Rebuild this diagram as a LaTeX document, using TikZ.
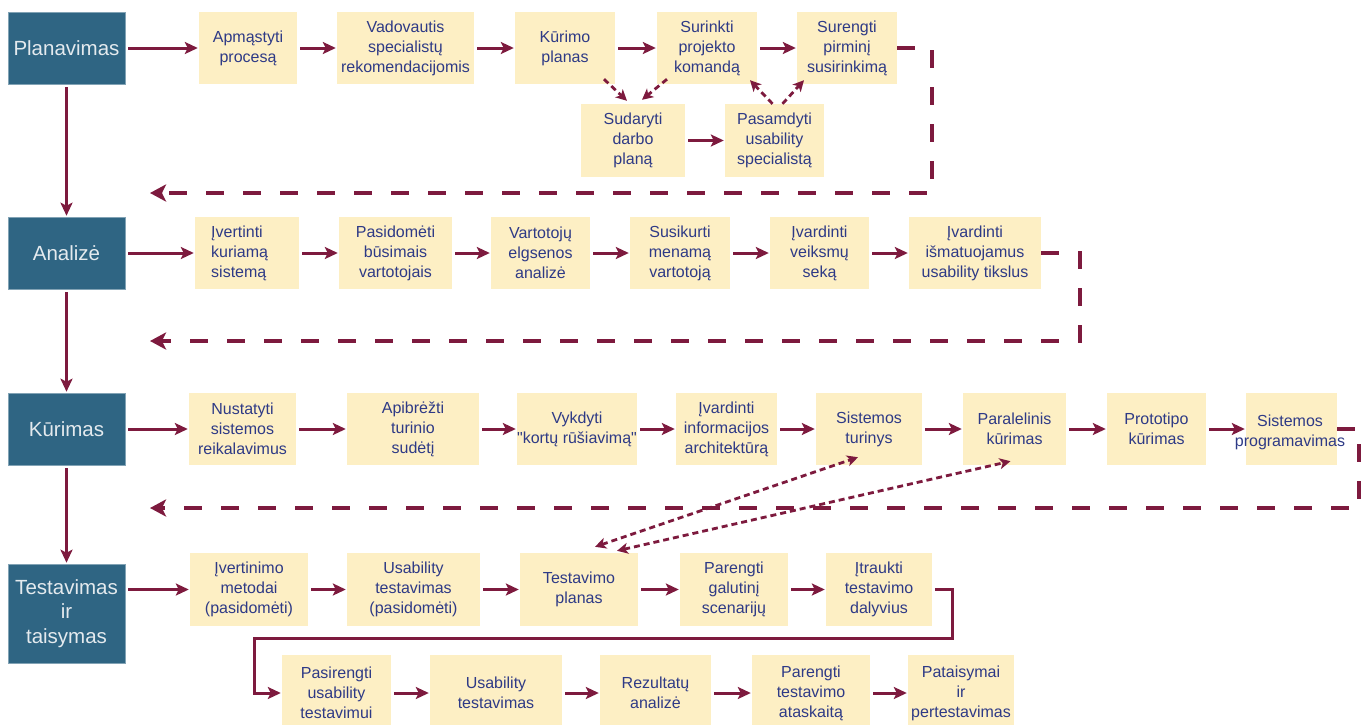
\documentclass[tikz,border=0pt]{standalone}
\usepackage{fontspec}
\setmainfont{Liberation Sans}[Ligatures=TeXOff]
\usetikzlibrary{arrows.meta,calc}
\definecolor{maroon}{HTML}{7D1A3E}
\definecolor{phase}{HTML}{2F6583}
\definecolor{yfill}{HTML}{FDEFC4}
\definecolor{navy}{HTML}{2E3A86}
\definecolor{phtext}{HTML}{E4EAEE}
\pgfdeclarelayer{bg}\pgfsetlayers{bg,main}
\begin{document}
\begin{tikzpicture}[x=1pt,y=-1pt,
  phasebox/.style={fill=phase, draw=phase!60!white, line width=0.6pt, text=phtext,
    font=\fontsize{20.5}{24.5}\selectfont, align=center, inner sep=0pt},
  stepbox/.style={fill=yfill, text=navy, font=\fontsize{16}{20}\selectfont, align=center, inner sep=0pt},
  flow/.style={draw=maroon, line width=3pt, line join=miter,
    -{Stealth[length=13pt,width=12pt,inset=3pt]}, shorten <=3pt, shorten >=1pt},
  loopline/.style={draw=maroon, line width=4.5pt, line join=miter, dash pattern=on 18pt off 19pt,
    -{Stealth[length=16pt,width=17pt,inset=4pt]}},
  dotline/.style={draw=maroon, line width=2.8pt, dash pattern=on 6pt off 4pt,
    -{Stealth[length=11pt,width=11pt,inset=3pt]}},
  dotboth/.style={draw=maroon, line width=2.8pt, dash pattern=on 6pt off 4pt,
    {Stealth[length=11pt,width=11pt,inset=3pt]}-{Stealth[length=11pt,width=11pt,inset=3pt]}}
]
\clip (0,0) rectangle (1361,724);
\fill[white] (0,0) rectangle (1361,724);

% phase boxes
\node[phasebox, minimum width=117, minimum height=72] (P1) at (66.5,48) {Planavimas};
\node[phasebox, minimum width=117, minimum height=72] (P2) at (66.5,253) {Analizė};
\node[phasebox, minimum width=117, minimum height=72] (P3) at (66.5,429) {Kūrimas};
\node[phasebox, minimum width=117, minimum height=99] (P4) at (66.5,613.5) {Testavimas\\ir\\taisymas};

% row 1
\node[stepbox, minimum width=98, minimum height=72] (a1) at (248,48) {Apmąstyti\\procesą};
\node[stepbox, minimum width=137, minimum height=72] (a2) at (405.5,48) {Vadovautis\\specialistų\\rekomendacijomis};
\node[stepbox, minimum width=100, minimum height=72] (a3) at (565,48) {Kūrimo\\planas};
\node[stepbox, minimum width=100, minimum height=72] (a4) at (707,48) {Surinkti\\projekto\\komandą};
\node[stepbox, minimum width=100, minimum height=72] (a5) at (847,48) {Surengti\\pirminį\\susirinkimą};
\node[stepbox, minimum width=104, minimum height=73] (a6) at (633,140.5) {Sudaryti\\darbo\\planą};
\node[stepbox, minimum width=99, minimum height=73] (a7) at (774.5,140.5) {Pasamdyti\\usability\\specialistą};

% row 2
\node[stepbox, minimum width=104, minimum height=72] (b1) at (247,253) {};
\node[text=navy, font=\fontsize{16}{20}\selectfont, align=left, inner sep=0pt, anchor=west] (b1t) at (211,253) {Įvertinti\\kuriamą\\sistemą};
\node[stepbox, minimum width=113, minimum height=72] (b2) at (395.5,253) {Pasidomėti\\būsimais\\vartotojais};
\node[stepbox, minimum width=99, minimum height=72] (b3) at (540.5,253) {Vartotojų\\elgsenos\\analizė};
\node[stepbox, minimum width=100, minimum height=72] (b4) at (680,253) {Susikurti\\menamą\\vartotoją};
\node[stepbox, minimum width=99, minimum height=72] (b5) at (819.5,253) {Įvardinti\\veiksmų\\seką};
\node[stepbox, minimum width=132, minimum height=72] (b6) at (975,253) {Įvardinti\\išmatuojamus\\usability tikslus};

% row 3
\node[stepbox, minimum width=107, minimum height=72] (c1) at (242.5,429) {Nustatyti\\sistemos\\reikalavimus};
\node[stepbox, minimum width=132, minimum height=72] (c2) at (413,429) {Apibrėžti\\turinio\\sudėtį};
\node[stepbox, minimum width=120, minimum height=72] (c3) at (577,429) {Vykdyti\\"kortų rūšiavimą"};
\node[stepbox, minimum width=101, minimum height=72] (c4) at (726.5,429) {Įvardinti\\informacijos\\architektūrą};
\node[stepbox, minimum width=106, minimum height=72] (c5) at (869,429) {Sistemos\\turinys};
\node[stepbox, minimum width=103, minimum height=72] (c6) at (1014.5,429) {Paralelinis\\kūrimas};
\node[stepbox, minimum width=99, minimum height=72] (c7) at (1156.5,429) {Prototipo\\kūrimas};
\node[stepbox, minimum width=91, minimum height=72] (c8) at (1291.5,429) {};
\node[text=navy, font=\fontsize{16}{20}\selectfont, align=center, inner sep=0pt] (c8t) at (1290,432) {Sistemos\\programavimas};

% row 4
\node[stepbox, minimum width=118, minimum height=73] (d1) at (249,589.5) {Įvertinimo\\metodai\\(pasidomėti)};
\node[stepbox, minimum width=133, minimum height=73] (d2) at (413.5,589.5) {Usability\\testavimas\\(pasidomėti)};
\node[stepbox, minimum width=118, minimum height=73] (d3) at (579,589.5) {Testavimo\\planas};
\node[stepbox, minimum width=108, minimum height=73] (d4) at (734,589.5) {Parengti\\galutinį\\scenarijų};
\node[stepbox, minimum width=106, minimum height=73] (d5) at (879,589.5) {Įtraukti\\testavimo\\dalyvius};

% row 5
\node[stepbox, minimum width=109, minimum height=76] (e1) at (336.5,693) {Pasirengti\\usability\\testavimui};
\node[stepbox, minimum width=132, minimum height=76] (e2) at (496,693) {Usability\\testavimas};
\node[stepbox, minimum width=111, minimum height=76] (e3) at (655.5,693) {Rezultatų\\analizė};
\node[stepbox, minimum width=118, minimum height=76] (e4) at (811,693) {Parengti\\testavimo\\ataskaitą};
\node[stepbox, minimum width=106, minimum height=76] (e5) at (961,693) {Pataisymai\\ir\\pertestavimas};

% vertical dotted line behind boxes
\begin{pgfonlayer}{bg}
\draw[dotboth, shorten <=6pt, shorten >=1pt] (a1.south) -- (a1.south |- d1.north);
\end{pgfonlayer}

% phase arrows
\draw[flow] (P1.south) -- (P2.north);
\draw[flow] (P2.south) -- (P3.north);
\draw[flow] (P3.south) -- (P4.north);
\draw[flow] (P1.east) -- (a1.west);
\draw[flow] (P2.east) -- (b1.west);
\draw[flow] (P3.east) -- (c1.west);
\draw[flow] (P4.east |- d1.west) -- (d1.west);

% row arrows
\draw[flow] (a1) -- (a2);
\draw[flow] (a2) -- (a3);
\draw[flow] (a3) -- (a4);
\draw[flow] (a4) -- (a5);
\draw[flow] (a6) -- (a7);
\draw[flow] (b1) -- (b2);
\draw[flow] (b2) -- (b3);
\draw[flow] (b3) -- (b4);
\draw[flow] (b4) -- (b5);
\draw[flow] (b5) -- (b6);
\draw[flow] (c1) -- (c2);
\draw[flow] (c2) -- (c3);
\draw[flow] (c3) -- (c4);
\draw[flow] (c4) -- (c5);
\draw[flow] (c5) -- (c6);
\draw[flow] (c6) -- (c7);
\draw[flow] (c7) -- (c8);
\draw[flow] (d1) -- (d2);
\draw[flow] (d2) -- (d3);
\draw[flow] (d3) -- (d4);
\draw[flow] (d4) -- (d5);
\draw[flow] (d5.east) -- (952,589.5) -- (952,638) -- (254,638) -- (254,693) -- (e1.west);
\draw[flow] (e1) -- (e2);
\draw[flow] (e2) -- (e3);
\draw[flow] (e3) -- (e4);
\draw[flow] (e4) -- (e5);

% dotted arrows row 1
\draw[dotline] ($(a3.south)+(39,-5)$) -- ($(a6.north)+(-6,-3)$);
\draw[dotline] ($(a4.south)+(-40,-5)$) -- ($(a6.north)+(9,-4)$);
\draw[dotline] ($(a7.north)+(-2,0)$) -- ($(a4.south)+(43,-4)$);
\draw[dotline] ($(a7.north)+(8,0)$) -- ($(a5.south)+(-43,-4)$);

% dotted arrows rows 3/4
\draw[dotboth] ($(d3.north)+(16,-6)$) -- ($(c5.south)+(-11,-8)$);
\draw[dotboth] ($(d3.north)+(38,-2)$) -- ($(c6.south)+(-4,-4)$);

% dashed loops
\draw[loopline] (a5.east) -- (932,48) -- (932,193) -- (150,193);
\draw[loopline] (b6.east) -- (1080,253) -- (1080,341) -- (150,341);
\draw[loopline] (c8.east) -- (1359,429) -- (1359,508) -- (150,508);
\end{tikzpicture}
\end{document}
